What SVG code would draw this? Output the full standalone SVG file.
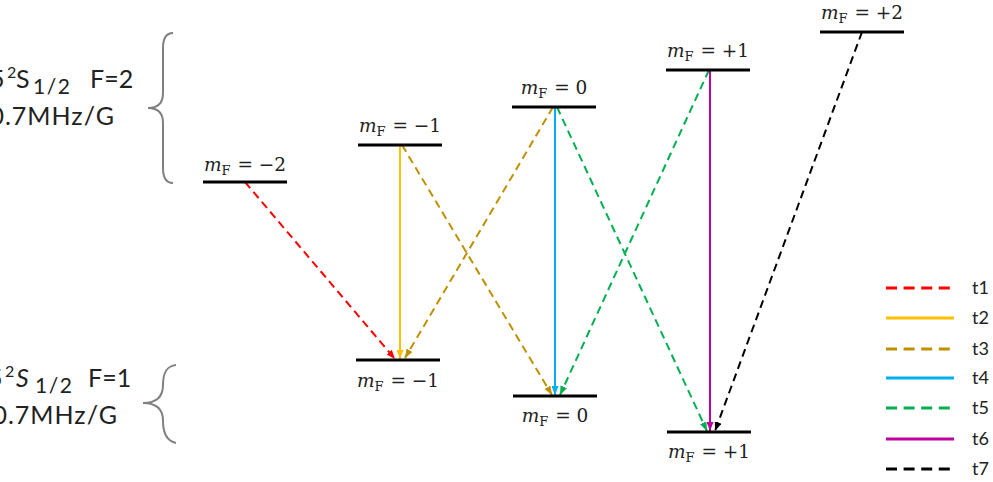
<svg xmlns="http://www.w3.org/2000/svg" width="993" height="482" viewBox="0 0 993 482">
<style>
.lvl{stroke:#000;stroke-width:3}
.lab{font-family:"DejaVu Serif","Liberation Serif",serif;font-size:18.5px;fill:#222}
.side{font-family:Lato,"Open Sans",sans-serif;font-size:25px;fill:#222}
.sup{font-size:16px}
.sub{font-size:21px;letter-spacing:1.5px}
.leg{font-family:Lato,"Open Sans",sans-serif;font-size:18px;fill:#222}
.brace{fill:none;stroke:#808080;stroke-width:2}
.tr{fill:none;stroke-width:2}
.d{stroke-dasharray:8 5}
.lg{fill:none;stroke-width:3}
.lgd{stroke-dasharray:11 6.6}
</style>
<defs>
<marker id="aR" markerUnits="userSpaceOnUse" markerWidth="9" markerHeight="7" refX="9" refY="3.5" orient="auto"><path d="M0,0 L9,3.5 L0,7 z" fill="#FF0000"/></marker>
<marker id="aY" markerUnits="userSpaceOnUse" markerWidth="9" markerHeight="7" refX="9" refY="3.5" orient="auto"><path d="M0,0 L9,3.5 L0,7 z" fill="#FFC000"/></marker>
<marker id="aB" markerUnits="userSpaceOnUse" markerWidth="9" markerHeight="7" refX="9" refY="3.5" orient="auto"><path d="M0,0 L9,3.5 L0,7 z" fill="#BF9000"/></marker>
<marker id="aC" markerUnits="userSpaceOnUse" markerWidth="9" markerHeight="7" refX="9" refY="3.5" orient="auto"><path d="M0,0 L9,3.5 L0,7 z" fill="#00B0F0"/></marker>
<marker id="aG" markerUnits="userSpaceOnUse" markerWidth="9" markerHeight="7" refX="9" refY="3.5" orient="auto"><path d="M0,0 L9,3.5 L0,7 z" fill="#00B050"/></marker>
<marker id="aM" markerUnits="userSpaceOnUse" markerWidth="9" markerHeight="7" refX="9" refY="3.5" orient="auto"><path d="M0,0 L9,3.5 L0,7 z" fill="#C000A0"/></marker>
<marker id="aK" markerUnits="userSpaceOnUse" markerWidth="9" markerHeight="7" refX="9" refY="3.5" orient="auto"><path d="M0,0 L9,3.5 L0,7 z" fill="#000"/></marker>
</defs>

<g id="side-F2">
<text class="side" y="88"><tspan x="-10">5</tspan><tspan class="sup" x="7" dy="-10">2</tspan><tspan x="16" dy="10">S</tspan><tspan class="sub" x="33" dy="6">1/2</tspan><tspan x="90" dy="-6">F=2</tspan></text>
<text class="side" x="115" y="125" text-anchor="end" letter-spacing="1">0.7MHz/G</text>
<path class="brace" d="M173,33 Q163,33 163,48 L163,93 Q163,108 148,108 Q163,108 163,123 L163,168 Q163,183 173,183"/>
</g>
<g id="side-F1">
<text class="side" y="387"><tspan x="-12">5</tspan><tspan class="sup" x="5" dy="-10">2</tspan><tspan x="16" dy="10" font-style="italic">S</tspan><tspan class="sub" x="35" dy="6">1/2</tspan><tspan x="88" dy="-6">F=1</tspan></text>
<text class="side" x="118" y="424" text-anchor="end" letter-spacing="1">0.7MHz/G</text>
<path class="brace" d="M176,365 C167,366 163,372 163,385 C163,397 156,403 143,403 C156,403 163,409 163,421 C163,434 167,441 176,443"/>
</g>

<g id="connectors">
<path class="tr d" stroke="#FF0000" d="M245,182 L395,359" marker-end="url(#aR)"/>
<path class="tr" stroke="#FFC000" d="M400,145 L400,359" marker-end="url(#aY)"/>
<path class="tr d" stroke="#BF9000" d="M402,145 L552,395" marker-end="url(#aB)"/>
<path class="tr d" stroke="#BF9000" d="M553,107 L405,358" marker-end="url(#aB)"/>
<path class="tr" stroke="#00B0F0" d="M555,107 L555,395" marker-end="url(#aC)"/>
<path class="tr d" stroke="#00B050" d="M557,107 L707,431" marker-end="url(#aG)"/>
<path class="tr d" stroke="#00B050" d="M709,70 L560,395" marker-end="url(#aG)"/>
<path class="tr" stroke="#C000A0" d="M710,70 L710,431" marker-end="url(#aM)"/>
<path class="tr d" stroke="#000" d="M862,32 L715,431" marker-end="url(#aK)"/>
</g>

<g id="u-m2"><line class="lvl" x1="203" y1="182" x2="287" y2="182"/><text class="lab" x="245" y="171" text-anchor="middle"><tspan font-style="italic">m</tspan><tspan font-size="13" dy="4">F</tspan><tspan dy="-4" dx="7">= −2</tspan></text></g>
<g id="u-m1"><line class="lvl" x1="358" y1="145" x2="442" y2="145"/><text class="lab" x="400" y="132" text-anchor="middle"><tspan font-style="italic">m</tspan><tspan font-size="13" dy="4">F</tspan><tspan dy="-4" dx="7">= −1</tspan></text></g>
<g id="u-0"><line class="lvl" x1="512" y1="107" x2="596" y2="107"/><text class="lab" x="554" y="94" text-anchor="middle"><tspan font-style="italic">m</tspan><tspan font-size="13" dy="4">F</tspan><tspan dy="-4" dx="7">= 0</tspan></text></g>
<g id="u-p1"><line class="lvl" x1="666" y1="70" x2="750" y2="70"/><text class="lab" x="708" y="57" text-anchor="middle"><tspan font-style="italic">m</tspan><tspan font-size="13" dy="4">F</tspan><tspan dy="-4" dx="7">= +1</tspan></text></g>
<g id="u-p2"><line class="lvl" x1="820" y1="32" x2="904" y2="32"/><text class="lab" x="862" y="19" text-anchor="middle"><tspan font-style="italic">m</tspan><tspan font-size="13" dy="4">F</tspan><tspan dy="-4" dx="7">= +2</tspan></text></g>
<g id="l-m1"><line class="lvl" x1="356" y1="360" x2="440" y2="360"/><text class="lab" x="398" y="387" text-anchor="middle"><tspan font-style="italic">m</tspan><tspan font-size="13" dy="4">F</tspan><tspan dy="-4" dx="7">= −1</tspan></text></g>
<g id="l-0"><line class="lvl" x1="513" y1="396" x2="597" y2="396"/><text class="lab" x="555" y="422" text-anchor="middle"><tspan font-style="italic">m</tspan><tspan font-size="13" dy="4">F</tspan><tspan dy="-4" dx="7">= 0</tspan></text></g>
<g id="l-p1"><line class="lvl" x1="667" y1="432" x2="751" y2="432"/><text class="lab" x="709" y="458" text-anchor="middle"><tspan font-style="italic">m</tspan><tspan font-size="13" dy="4">F</tspan><tspan dy="-4" dx="7">= +1</tspan></text></g>

<g id="legend">
<line class="lg lgd" stroke="#FF0000" x1="886" y1="288" x2="954" y2="288"/><text class="leg" x="972" y="294">t1</text>
<line class="lg" stroke="#FFC000" x1="886" y1="318" x2="954" y2="318"/><text class="leg" x="972" y="324">t2</text>
<line class="lg lgd" stroke="#BF9000" x1="886" y1="349" x2="954" y2="349"/><text class="leg" x="972" y="355">t3</text>
<line class="lg" stroke="#00B0F0" x1="886" y1="378" x2="954" y2="378"/><text class="leg" x="972" y="384">t4</text>
<line class="lg lgd" stroke="#00B050" x1="886" y1="408" x2="954" y2="408"/><text class="leg" x="972" y="414">t5</text>
<line class="lg" stroke="#C000A0" x1="886" y1="439" x2="954" y2="439"/><text class="leg" x="972" y="445">t6</text>
<line class="lg lgd" stroke="#000" x1="886" y1="469" x2="954" y2="469"/><text class="leg" x="972" y="475">t7</text>
</g>
</svg>
